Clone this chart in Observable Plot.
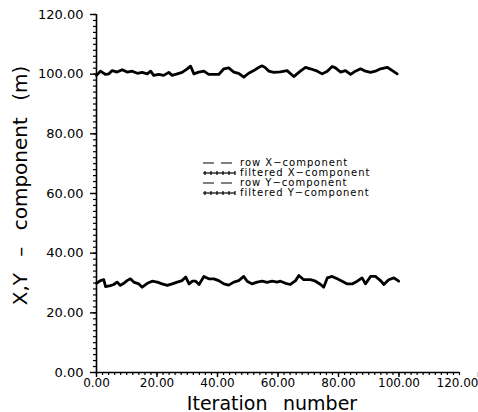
<!DOCTYPE html>
<html>
<head>
<meta charset="utf-8">
<script src="https://cdn.jsdelivr.net/npm/d3@7"></script>
<script src="https://cdn.jsdelivr.net/npm/@observablehq/plot@0.6"></script>
<style>
  html, body { margin: 0; padding: 0; background: #fff; }
  #wrap { position: relative; width: 478px; height: 412px; }
  #legend { position: absolute; left: 202px; top: 158px; font-family: "DejaVu Sans", sans-serif; font-size: 10px; letter-spacing: 1px; line-height: 10px; color: #000; }
  #legend .row { display: flex; align-items: center; height: 10px; white-space: nowrap; }
  #legend svg { margin-right: 4px; }
</style>
</head>
<body>
<div id="wrap"><div id="legend"></div></div>
<script>
// Tick values
const majorTicks = [0, 20, 40, 60, 80, 100, 120];
const minorTicks = d3.range(0, 121, 2);

// Legend labels
const legendLabels = ["row X\u2212component", "filtered X\u2212component", "row Y\u2212component", "filtered Y\u2212component"];
const legendStyles = ["dash", "cross", "dash", "cross"];

// X-component (around 30 m)
const iterX = [0, 1.3, 2.4, 3.0, 4.6, 5.7, 6.8, 7.9, 9.0, 10.1, 11.2, 12.3, 14.0, 15.1, 16.8, 18.4, 20.1, 21.7, 23.4, 25.0,
  26.7, 28.3, 29.5, 30.6, 31.7, 32.8, 33.9, 35.5, 37.1, 38.8, 40.4, 42.1, 43.7, 45.4, 47.0, 48.7, 49.8, 51.4, 53.1, 54.8,
  56.4, 58.1, 59.7, 60.8, 62.5, 64.1, 65.8, 66.9, 68.5, 70.7, 72.4, 74.1, 75.1, 76.3, 77.9, 79.6, 81.2, 82.9, 84.5, 86.2,
  87.8, 88.9, 90.6, 92.2, 93.9, 95.0, 96.6, 98.3, 99.9];
const valX = [29.9, 30.8, 31.1, 28.8, 29.1, 29.5, 30.3, 29.2, 29.9, 30.8, 31.4, 30.3, 29.7, 28.6, 29.9, 30.6, 30.3, 29.7, 29.2, 29.7,
  30.3, 30.8, 32.0, 29.7, 30.6, 30.6, 29.5, 32.2, 31.4, 31.4, 30.8, 29.7, 29.3, 30.3, 30.8, 32.2, 30.6, 29.7, 30.3, 30.6,
  30.2, 30.6, 30.3, 30.6, 29.9, 29.5, 30.8, 32.5, 31.1, 31.1, 30.6, 29.5, 28.6, 31.7, 32.2, 31.4, 30.6, 29.7, 29.7, 30.6,
  31.7, 29.7, 32.2, 32.2, 30.8, 29.5, 31.1, 31.7, 30.6];

// Y-component (around 100 m)
const iterY = [0, 1.3, 3.0, 4.1, 5.2, 6.8, 8.5, 10.1, 11.8, 13.5, 15.1, 16.8, 17.9, 18.9, 20.6, 22.2, 23.9, 25.0, 26.7, 28.3,
  30.0, 31.1, 32.2, 33.8, 35.5, 37.1, 38.8, 40.4, 42.1, 43.7, 45.4, 47.0, 48.7, 50.3, 52.0, 53.7, 54.8, 55.9, 57.0, 58.6,
  60.8, 63.0, 65.2, 67.4, 69.1, 70.7, 73.0, 74.6, 76.3, 77.9, 79.0, 80.7, 82.3, 84.0, 85.6, 87.3, 88.9, 90.6, 92.2, 93.9,
  96.1, 97.8, 99.4];
const valY = [99.6, 101.0, 99.9, 100.1, 101.2, 100.7, 101.5, 100.7, 101.0, 100.3, 100.6, 100.1, 101.0, 99.6, 99.9, 99.6, 100.6, 99.6, 100.1, 100.6,
  101.8, 102.7, 100.1, 100.7, 101.0, 99.9, 99.9, 99.9, 101.8, 102.1, 100.7, 100.3, 99.0, 100.3, 101.2, 102.3, 102.8, 102.1, 101.0, 100.6,
  100.8, 101.2, 99.2, 101.0, 102.3, 101.8, 101.0, 100.1, 101.0, 102.6, 102.1, 100.7, 101.2, 99.9, 101.0, 101.8, 101.0, 100.6, 101.0, 101.8,
  102.3, 101.2, 100.1];

const dataX = iterX.map((it, i) => ({it, v: valX[i]}));
const dataY = iterY.map((it, i) => ({it, v: valY[i]}));

const fmt = d3.format(".2f");
const lastTick = majorTicks[majorTicks.length - 1];
const innerTicks = majorTicks.slice(0, -1);

const chart = Plot.plot({
  width: 478,
  height: 412,
  marginLeft: 96,
  marginRight: 19,
  marginTop: 14,
  marginBottom: 40,
  style: {fontFamily: "'DejaVu Sans', sans-serif", background: "white", color: "black", overflow: "visible"},
  x: {domain: [0, 120]},
  y: {domain: [0, 120]},
  marks: [
    // minor ticks
    Plot.axisY({ticks: minorTicks, tickSize: 3, tickFormat: () => "", label: null, strokeWidth: 1.2}),
    Plot.axisX({ticks: minorTicks, tickSize: 3, tickFormat: () => "", label: null, strokeWidth: 1.2}),
    // major ticks with labels
    Plot.axisY({ticks: majorTicks, tickSize: 6, tickPadding: 7, tickFormat: fmt, label: null, fontSize: 13, strokeWidth: 1.4}),
    Plot.axisX({ticks: innerTicks, tickSize: 5, tickPadding: 1, tickFormat: fmt, label: null, fontSize: 12, strokeWidth: 1.4}),
    Plot.axisX({ticks: [lastTick], tickSize: 5, tickPadding: 1, tickFormat: fmt, label: null, fontSize: 12, strokeWidth: 1.4, textAnchor: "end", dx: 19}),
    Plot.ruleX([0], {strokeWidth: 1.6}),
    Plot.ruleY([0], {strokeWidth: 1.6}),
    // series (raw and filtered overlap)
    Plot.line(dataX, {x: "it", y: "v", stroke: "black", strokeWidth: 2.8, strokeLinejoin: "round"}),
    Plot.line(dataY, {x: "it", y: "v", stroke: "black", strokeWidth: 2.8, strokeLinejoin: "round"}),
    // axis titles
    Plot.text(["X,Y \u2002\u2013\u2002 component \u2002(m)"], {frameAnchor: "left", textAnchor: "middle", rotate: -90, dx: -76, dy: -8, fontSize: 20, letterSpacing: 0.9}),
    Plot.text(["Iteration \u2002number"], {frameAnchor: "bottom", textAnchor: "middle", lineAnchor: "bottom", dy: 37, dx: -6, fontSize: 19, letterSpacing: 0.8})
  ]
});

const wrap = document.getElementById("wrap");
wrap.insertBefore(chart, wrap.firstChild);

// Legend
const legend = document.getElementById("legend");
legendLabels.forEach((lab, i) => {
  const row = document.createElement("div");
  row.className = "row";
  const ns = "http://www.w3.org/2000/svg";
  const s = document.createElementNS(ns, "svg");
  s.setAttribute("width", 34);
  s.setAttribute("height", 8);
  const ln = document.createElementNS(ns, "line");
  ln.setAttribute("x1", 1); ln.setAttribute("x2", 33);
  ln.setAttribute("y1", 4); ln.setAttribute("y2", 4);
  ln.setAttribute("stroke", "black");
  ln.setAttribute("stroke-width", 1.2);
  if (legendStyles[i] === "dash") ln.setAttribute("stroke-dasharray", "11,7");
  s.appendChild(ln);
  if (legendStyles[i] === "cross") {
    d3.range(3, 34, 6).forEach(cx => {
      const t = document.createElementNS(ns, "line");
      t.setAttribute("x1", cx); t.setAttribute("x2", cx);
      t.setAttribute("y1", 2); t.setAttribute("y2", 6);
      t.setAttribute("stroke", "black");
      t.setAttribute("stroke-width", 1.2);
      s.appendChild(t);
    });
  }
  row.appendChild(s);
  const span = document.createElement("span");
  span.textContent = lab;
  row.appendChild(span);
  legend.appendChild(row);
});
</script>
</body>
</html>
